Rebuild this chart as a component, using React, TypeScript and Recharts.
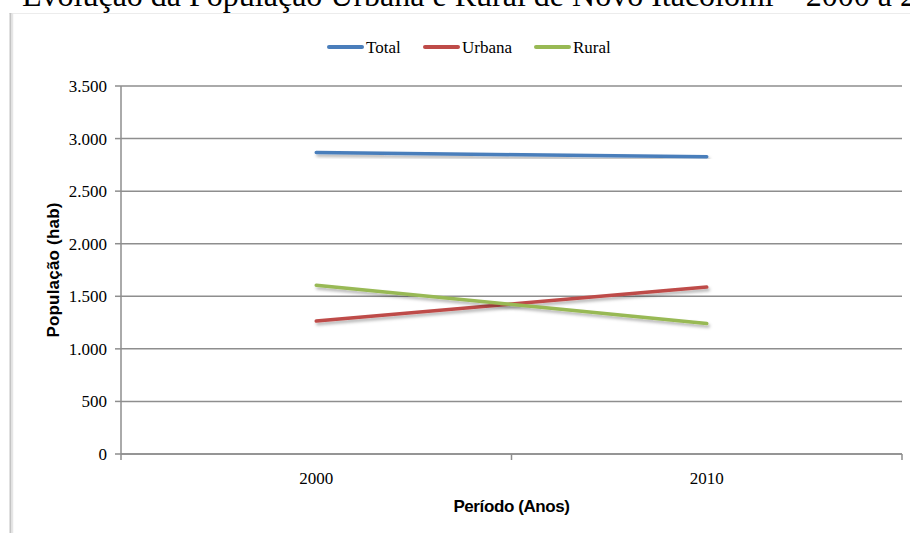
import React from "react";
import { LineChart, Line, XAxis, YAxis, CartesianGrid, Label } from "recharts";

const years = ["2000", "2010"];
const totalValues = [2867, 2827];
const urbanaValues = [1264, 1588];
const ruralValues = [1605, 1241];
const yTicks = [0, 500, 1000, 1500, 2000, 2500, 3000, 3500];
const seriesNames = ["Total", "Urbana", "Rural"];
const titleText = "Evolução da População Urbana e Rural de Novo Itacolomi – 2000 a 2010";
const yLabelText = "População (hab)";
const xLabelText = "Período (Anos)";

const COLORS: Record<string, string> = { Total: "#4A7EBB", Urbana: "#BE4B48", Rural: "#98B954" };
const GRID = "#8e8e8e";
const SERIF = "'Liberation Serif', 'Times New Roman', serif";
const SANS = "'Liberation Sans', Arial, sans-serif";

const data = years.map((y, i) => ({
  x: i + 0.5,
  ano: y,
  Total: totalValues[i],
  Urbana: urbanaValues[i],
  Rural: ruralValues[i],
}));

const xTickValues = [0, 0.5, 1, 1.5, 2];

const fmt = (v: number) => v.toLocaleString("pt-BR");

const XTick = (props: any) => {
  const { x, y, payload } = props;
  const v = payload.value as number;
  if (Number.isInteger(v)) {
    return <line x1={x} x2={x} y1={y} y2={y + 6} stroke={GRID} strokeWidth={1.5} />;
  }
  const label = years[Math.floor(v)];
  return (
    <text x={x} y={y + 30} textAnchor="middle" fontFamily={SERIF} fontSize={17} fill="#000">
      {label}
    </text>
  );
};

const legendLayout = [
  { name: "Total", x: 327 },
  { name: "Urbana", x: 423 },
  { name: "Rural", x: 534 },
];

export default function App() {
  return (
    <div style={{ position: "absolute", left: 0, top: 0, width: 910, height: 533, background: "#fff", overflow: "hidden" }}>
      <LineChart width={910} height={533} data={data} margin={{ top: 86, right: 8, bottom: 0, left: 0 }}>
        <CartesianGrid horizontal vertical={false} stroke={GRID} strokeWidth={1.5} />
        <XAxis
          dataKey="x"
          type="number"
          domain={[0, 2]}
          ticks={xTickValues}
          interval={0}
          tick={<XTick />}
          tickLine={false}
          tickSize={0}
          tickMargin={0}
          axisLine={{ stroke: GRID, strokeWidth: 1.5 }}
          height={79}
        >
          <Label
            content={(p: any) => {
              const vb = p.viewBox;
              return (
                <text x={vb.x + vb.width / 2} y={vb.y + 58} textAnchor="middle" fontFamily={SANS} fontWeight="bold" fontSize={17} fill="#000" letterSpacing={-0.4}>
                  {xLabelText}
                </text>
              );
            }}
          />
        </XAxis>
        <YAxis
          type="number"
          domain={[0, 3500]}
          ticks={yTicks}
          interval={0}
          width={121}
          tickFormatter={fmt}
          tickSize={6}
          tickMargin={8}
          tickLine={{ stroke: GRID, strokeWidth: 1.5 }}
          axisLine={{ stroke: GRID, strokeWidth: 1.5 }}
          tick={{ fontFamily: SERIF, fontSize: 17, fill: "#000" }}
        >
          <Label
            content={(p: any) => {
              const vb = p.viewBox;
              const cx = 59;
              const cy = vb.y + vb.height / 2;
              return (
                <text x={cx} y={cy} transform={`rotate(-90, ${cx}, ${cy})`} textAnchor="middle" fontFamily={SANS} fontWeight="bold" fontSize={17} fill="#000" letterSpacing={0.2}>
                  {yLabelText}
                </text>
              );
            }}
          />
        </YAxis>
        {seriesNames.map((s) => (
          <Line
            key={s}
            dataKey={s}
            stroke={COLORS[s]}
            strokeWidth={3.5}
            dot={false}
            activeDot={false}
            isAnimationActive={false}
            strokeLinecap="round"
            filter="url(#lineShadow)"
          />
        ))}
      </LineChart>
      <svg width={910} height={533} style={{ position: "absolute", left: 0, top: 0, pointerEvents: "none" }}>
        <defs>
          <filter id="lineShadow" x="-10%" y="-50%" width="120%" height="200%">
            <feDropShadow dx={1.5} dy={2.5} stdDeviation={1.5} floodColor="#000" floodOpacity={0.3} />
          </filter>
        </defs>
        <line x1={9} x2={910} y1={13.5} y2={13.5} stroke="#ececec" strokeWidth={1} />
        <line x1={10.5} x2={10.5} y1={13} y2={533} stroke="#c4c4c4" strokeWidth={2} />
        <line x1={12.5} x2={12.5} y1={13} y2={533} stroke="#e6e6e6" strokeWidth={1.5} />
        <text x={22} y={5.5} fontFamily={SERIF} fontSize={32} fill="#000">
          {titleText}
        </text>
        {legendLayout.map((l) => (
          <g key={l.name}>
            <line x1={l.x + 2} x2={l.x + 35} y1={47} y2={47} stroke={COLORS[l.name]} strokeWidth={4} strokeLinecap="round" />
            <text x={l.x + 39} y={53} fontFamily={SERIF} fontSize={17} fill="#000">
              {l.name}
            </text>
          </g>
        ))}
      </svg>
    </div>
  );
}
